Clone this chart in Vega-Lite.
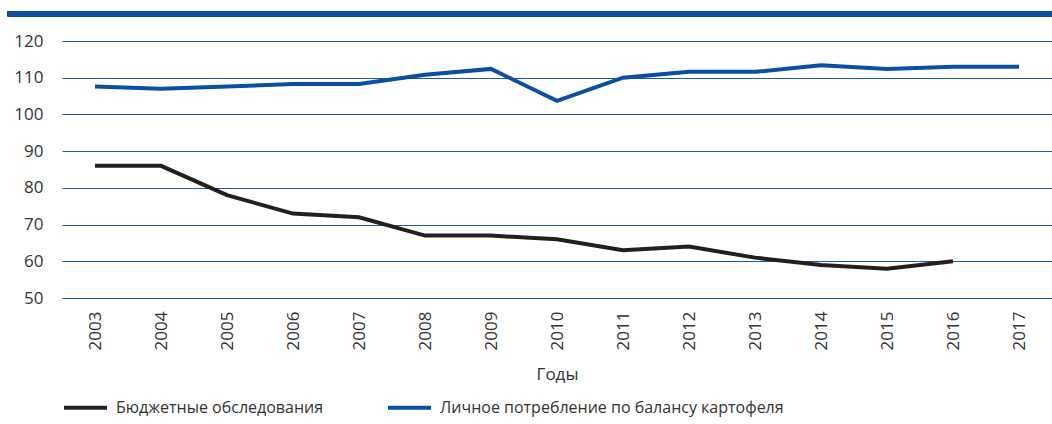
{
  "$schema": "https://vega.github.io/schema/vega-lite/v6.json",
  "width": 990,
  "height": 257,
  "autosize": {"type": "none"},
  "padding": {"left": 62, "top": 41, "right": 0, "bottom": 126},
  "background": "white",
  "config": {
    "view": {"stroke": null},
    "font": "Open Sans",
    "axis": {"labelColor": "#333333", "titleColor": "#333333"}
  },
  "data": {
    "values": [
      {"year": 2003, "series": "Бюджетные обследования", "value": 86},
      {"year": 2004, "series": "Бюджетные обследования", "value": 86},
      {"year": 2005, "series": "Бюджетные обследования", "value": 78},
      {"year": 2006, "series": "Бюджетные обследования", "value": 73},
      {"year": 2007, "series": "Бюджетные обследования", "value": 72},
      {"year": 2008, "series": "Бюджетные обследования", "value": 67},
      {"year": 2009, "series": "Бюджетные обследования", "value": 67},
      {"year": 2010, "series": "Бюджетные обследования", "value": 66},
      {"year": 2011, "series": "Бюджетные обследования", "value": 63},
      {"year": 2012, "series": "Бюджетные обследования", "value": 64},
      {"year": 2013, "series": "Бюджетные обследования", "value": 61},
      {"year": 2014, "series": "Бюджетные обследования", "value": 59},
      {"year": 2015, "series": "Бюджетные обследования", "value": 58},
      {"year": 2016, "series": "Бюджетные обследования", "value": 60},
      {"year": 2003, "series": "Личное потребление по балансу картофеля", "value": 107.6},
      {"year": 2004, "series": "Личное потребление по балансу картофеля", "value": 107},
      {"year": 2005, "series": "Личное потребление по балансу картофеля", "value": 107.6},
      {"year": 2006, "series": "Личное потребление по балансу картофеля", "value": 108.3},
      {"year": 2007, "series": "Личное потребление по балансу картофеля", "value": 108.3},
      {"year": 2008, "series": "Личное потребление по балансу картофеля", "value": 110.8},
      {"year": 2009, "series": "Личное потребление по балансу картофеля", "value": 112.4},
      {"year": 2010, "series": "Личное потребление по балансу картофеля", "value": 103.7},
      {"year": 2011, "series": "Личное потребление по балансу картофеля", "value": 110},
      {"year": 2012, "series": "Личное потребление по балансу картофеля", "value": 111.6},
      {"year": 2013, "series": "Личное потребление по балансу картофеля", "value": 111.6},
      {"year": 2014, "series": "Личное потребление по балансу картофеля", "value": 113.4},
      {"year": 2015, "series": "Личное потребление по балансу картофеля", "value": 112.4},
      {"year": 2016, "series": "Личное потребление по балансу картофеля", "value": 113},
      {"year": 2017, "series": "Личное потребление по балансу картофеля", "value": 113}
    ]
  },
  "layer": [
    {
      "mark": {"type": "line", "strokeWidth": 4, "strokeJoin": "miter"},
      "encoding": {
        "x": {
          "field": "year",
          "type": "quantitative",
          "scale": {"domain": [2002.5, 2017.5], "nice": false, "zero": false},
          "axis": {
            "values": [2003, 2004, 2005, 2006, 2007, 2008, 2009, 2010, 2011, 2012, 2013, 2014, 2015, 2016, 2017],
            "format": "d",
            "labelAngle": -90,
            "labelFontSize": 17,
            "labelPadding": 13,
            "labelOverlap": false,
            "ticks": false,
            "domain": false,
            "grid": false,
            "title": "Годы",
            "titleFontSize": 17,
            "titleFontWeight": "normal",
            "titlePadding": 17
          }
        },
        "y": {
          "field": "value",
          "type": "quantitative",
          "scale": {"domain": [50, 120], "nice": false, "zero": false},
          "axis": {
            "values": [50, 60, 70, 80, 90, 100, 110, 120],
            "labelFontSize": 17,
            "labelPadding": 19,
            "labelOverlap": false,
            "ticks": false,
            "domain": false,
            "grid": true,
            "gridColor": "#1f5aa6",
            "gridWidth": 1.2,
            "gridOpacity": 1,
            "title": null
          }
        },
        "color": {
          "field": "series",
          "type": "nominal",
          "scale": {
            "domain": ["Бюджетные обследования", "Личное потребление по балансу картофеля"],
            "range": ["#231f20", "#0b4ea2"]
          },
          "legend": {
            "title": null,
            "orient": "none",
            "legendX": 0,
            "legendY": 343,
            "direction": "horizontal",
            "symbolType": "stroke",
            "symbolSize": 1849,
            "symbolStrokeWidth": 4,
            "labelFont": "Open Sans",
            "labelFontSize": 16,
            "labelColor": "#333333",
            "labelOffset": 7,
            "labelLimit": 0,
            "columnPadding": 56,
            "padding": 0
          }
        }
      }
    },
    {
      "mark": {"type": "rule", "color": "#0b4ea2", "strokeWidth": 5, "clip": false},
      "encoding": {
        "y": {
          "datum": 127.4,
          "axis": {
            "values": [50, 60, 70, 80, 90, 100, 110, 120],
            "labelFontSize": 17,
            "labelPadding": 19,
            "labelOverlap": false,
            "ticks": false,
            "domain": false,
            "grid": true,
            "gridColor": "#1f5aa6",
            "gridWidth": 1.2,
            "gridOpacity": 1,
            "title": null
          }
        },
        "x": {"datum": 2001.68},
        "x2": {"datum": 2017.5}
      }
    }
  ]
}
